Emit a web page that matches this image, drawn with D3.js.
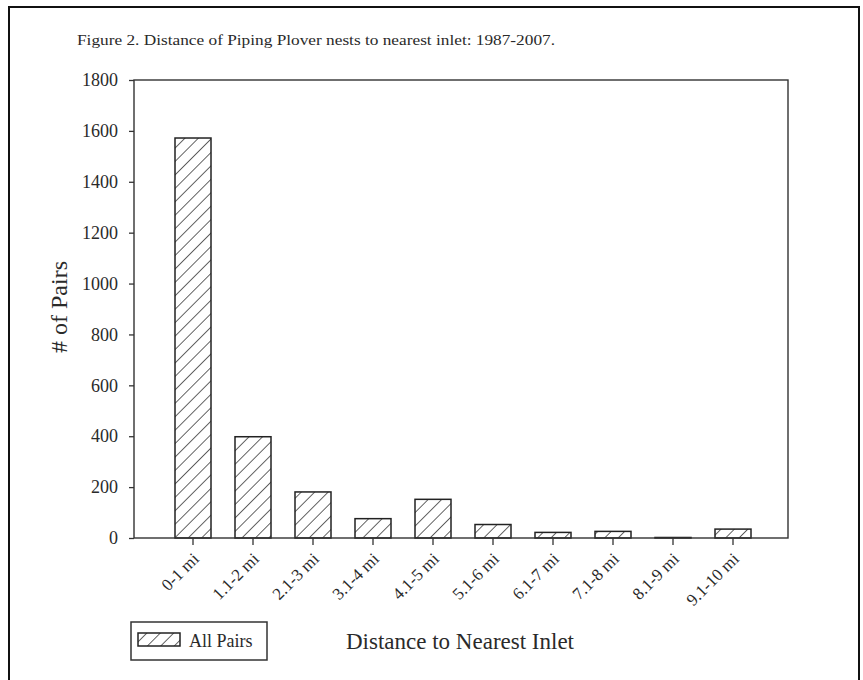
<!DOCTYPE html>
<html>
<head>
<meta charset="utf-8">
<script src="https://cdn.jsdelivr.net/npm/d3@7"></script>
<style>
  body { margin: 0; background: #fff; }
  text { font-family: "Liberation Serif", "Times New Roman", serif; fill: #2a2a2a; }
</style>
</head>
<body>
<div id="chart_wrapper"></div>
<script>
// data
const categories = ["0-1 mi", "1.1-2 mi", "2.1-3 mi", "3.1-4 mi", "4.1-5 mi",
                    "5.1-6 mi", "6.1-7 mi", "7.1-8 mi", "8.1-9 mi", "9.1-10 mi"];
const pairs = [1572, 398, 181, 76, 152, 53, 22, 26, 2, 35];
const yTicks = [0, 200, 400, 600, 800, 1000, 1200, 1400, 1600, 1800];
const seriesName = "All Pairs";

const W = 863, H = 680;
const plot = { left: 134, right: 788, top: 80, bottom: 538 };

const svg = d3.select('#chart_wrapper').append('svg')
    .attr('width', W)
    .attr('height', H);

// hatch pattern
const defs = svg.append('defs');
const pat = defs.append('pattern')
    .attr('id', 'hatch')
    .attr('patternUnits', 'userSpaceOnUse')
    .attr('width', 9.5)
    .attr('height', 9.5)
    .attr('patternTransform', 'rotate(45)');
pat.append('rect').attr('width', 9.5).attr('height', 9.5).attr('fill', '#fff');
pat.append('line')
    .attr('x1', 0).attr('y1', 0).attr('x2', 0).attr('y2', 9.5)
    .attr('stroke', '#222').attr('stroke-width', 1.4);

// outer frame
svg.append('rect')
    .attr('x', 9).attr('y', 7)
    .attr('width', 850).attr('height', 700)
    .attr('fill', 'none')
    .attr('stroke', '#111')
    .attr('stroke-width', 2);

// title
svg.append('text')
    .attr('x', 77).attr('y', 45)
    .attr('textLength', 478)
    .attr('lengthAdjust', 'spacingAndGlyphs')
    .style('font-size', '14.5px')
    .text('Figure 2. Distance of Piping Plover nests to nearest inlet: 1987-2007.');

const x = d3.scaleBand()
    .domain(categories)
    .range([163, 763])
    .paddingInner(0.4)
    .paddingOuter(0.2);

const y = d3.scaleLinear()
    .domain([0, 1800])
    .range([plot.bottom, plot.top]);

// bars
svg.append('g').selectAll('rect')
    .data(categories)
    .join('rect')
    .attr('x', d => x(d))
    .attr('y', (d, i) => y(pairs[i]))
    .attr('width', x.bandwidth())
    .attr('height', (d, i) => y(0) - y(pairs[i]))
    .attr('fill', 'url(#hatch)')
    .attr('stroke', '#222')
    .attr('stroke-width', 1.5);

// plot box
svg.append('rect')
    .attr('x', plot.left).attr('y', plot.top)
    .attr('width', plot.right - plot.left)
    .attr('height', plot.bottom - plot.top)
    .attr('fill', 'none')
    .attr('stroke', '#333')
    .attr('stroke-width', 1.4);

// y axis
const yAxis = svg.append('g')
    .attr('transform', `translate(${plot.left},0)`)
    .call(d3.axisLeft(y).tickValues(yTicks).tickSize(5).tickPadding(11).tickFormat(d3.format('d')));
yAxis.select('.domain').remove();
yAxis.selectAll('line').attr('stroke', '#333').attr('stroke-width', 1.3);
yAxis.selectAll('text')
    .style('font-size', '18px')
    .style('font-family', '"Liberation Serif", serif')
    .attr('fill', '#2a2a2a');

// x axis
const xAxis = svg.append('g')
    .attr('transform', `translate(0,${plot.bottom})`)
    .call(d3.axisBottom(x).tickSize(7).tickPadding(6));
xAxis.select('.domain').remove();
xAxis.selectAll('line').attr('stroke', '#333').attr('stroke-width', 1.3);
xAxis.selectAll('text')
    .style('font-size', '17px')
    .style('font-family', '"Liberation Serif", serif')
    .attr('fill', '#2a2a2a')
    .style('text-anchor', 'end')
    .attr('y', 0)
    .attr('dy', 0)
    .attr('transform', 'translate(7,22) rotate(-45)');

// axis titles
svg.append('text')
    .attr('transform', 'translate(67,307) rotate(-90)')
    .attr('text-anchor', 'middle')
    .style('font-size', '24px')
    .text('# of Pairs');

svg.append('text')
    .attr('x', 460).attr('y', 649)
    .attr('text-anchor', 'middle')
    .style('font-size', '23px')
    .text('Distance to Nearest Inlet');

// legend
const legend = svg.append('g');
legend.append('rect')
    .attr('x', 131).attr('y', 622)
    .attr('width', 136).attr('height', 38)
    .attr('fill', '#fff')
    .attr('stroke', '#333')
    .attr('stroke-width', 1.5);
legend.append('rect')
    .attr('x', 138).attr('y', 633)
    .attr('width', 42).attr('height', 13)
    .attr('fill', 'url(#hatch)')
    .attr('stroke', '#222')
    .attr('stroke-width', 1.5);
legend.append('text')
    .attr('x', 189).attr('y', 647)
    .style('font-size', '18px')
    .text(seriesName);
</script>
</body>
</html>
